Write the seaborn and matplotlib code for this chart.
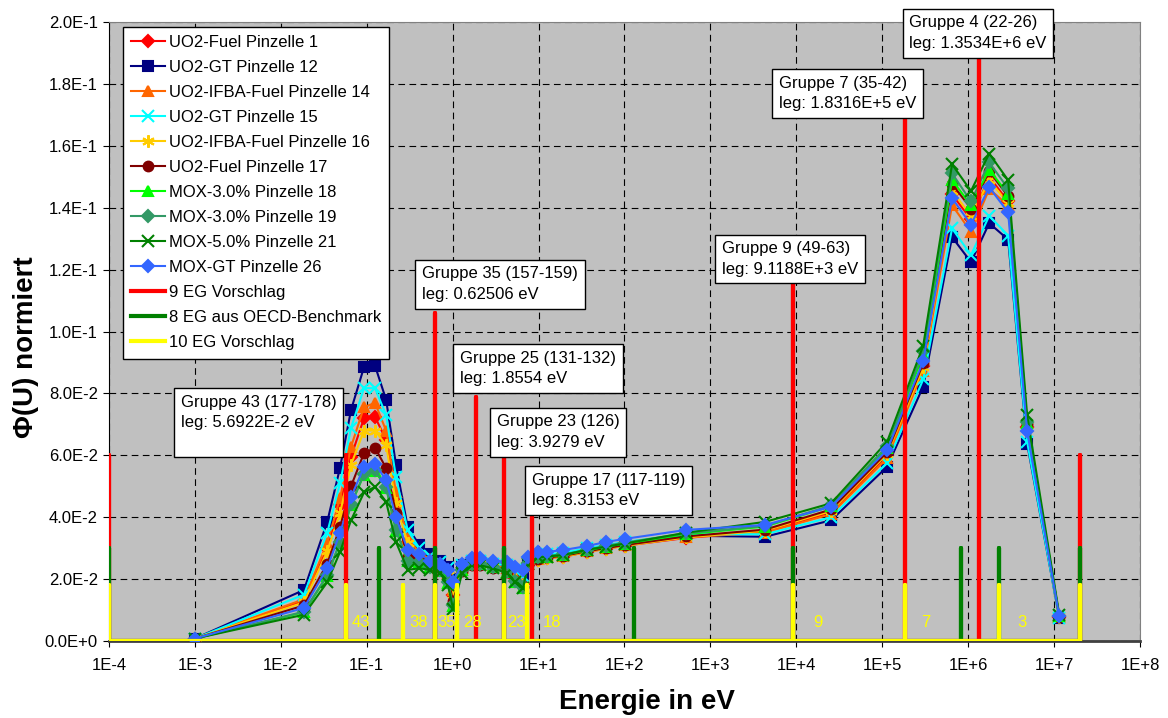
import pandas as pd
import seaborn as sns
import matplotlib.pyplot as plt
from matplotlib.ticker import NullLocator

# ---------------------- data ---------------------- #
# mid-group energies (eV) shared by every pin cell
energy = [1e-3, 0.0186, 0.0347, 0.0489, 0.0656, 0.093, 0.125, 0.168, 0.219, 0.30,
          0.41, 0.546, 0.713, 0.883, 1.01, 1.29, 1.68, 2.08, 2.95, 4.30,
          5.32, 6.60, 7.55, 9.8, 12.6, 19.5, 36.7, 61, 101, 521,
          4335, 2.54e4, 1.14e5, 3.0e5, 6.5e5, 1.08e6, 1.76e6, 2.92e6, 4.86e6, 1.15e7]

uo2_fuel_1 = [0.0008, 0.013, 0.030, 0.044, 0.0595, 0.072, 0.0724, 0.065, 0.0465, 0.032,
              0.028, 0.026, 0.024, 0.0215, 0.015, 0.023, 0.025, 0.025, 0.024, 0.023,
              0.0205, 0.0185, 0.0245, 0.0262, 0.0268, 0.0272, 0.0288, 0.0298, 0.0308, 0.0333,
              0.0355, 0.0415, 0.060, 0.089, 0.1443, 0.1362, 0.150, 0.142, 0.069, 0.0078]
uo2_gt_12 = [0.0008, 0.0165, 0.0385, 0.056, 0.0746, 0.0885, 0.0889, 0.078, 0.057, 0.0368,
             0.031, 0.028, 0.0258, 0.024, 0.020, 0.0245, 0.026, 0.026, 0.025, 0.0245,
             0.023, 0.021, 0.025, 0.027, 0.0275, 0.028, 0.0295, 0.0305, 0.0315, 0.034,
             0.0337, 0.039, 0.0563, 0.0822, 0.1305, 0.1224, 0.135, 0.1297, 0.0638, 0.0075]
uo2_ifba_14 = [0.0008, 0.0135, 0.0317, 0.0462, 0.0627, 0.0756, 0.0769, 0.068, 0.048, 0.0333,
               0.0285, 0.0265, 0.0245, 0.022, 0.0165, 0.0235, 0.0255, 0.0255, 0.0245, 0.0235,
               0.021, 0.019, 0.025, 0.0265, 0.027, 0.0275, 0.029, 0.030, 0.031, 0.0335,
               0.035, 0.041, 0.059, 0.0874, 0.1408, 0.1322, 0.146, 0.1408, 0.0695, 0.0078]
uo2_gt_15 = [0.0008, 0.015, 0.035, 0.051, 0.0688, 0.0817, 0.0817, 0.073, 0.053, 0.0358,
             0.030, 0.0275, 0.0255, 0.0235, 0.0195, 0.0245, 0.026, 0.026, 0.025, 0.0245,
             0.0228, 0.021, 0.0255, 0.0275, 0.028, 0.0285, 0.030, 0.031, 0.032, 0.0345,
             0.0345, 0.040, 0.0575, 0.0845, 0.1333, 0.1247, 0.1374, 0.131, 0.0644, 0.0075]
uo2_ifba_16 = [0.0008, 0.0125, 0.029, 0.0413, 0.0569, 0.068, 0.068, 0.0633, 0.0446, 0.0316,
               0.0278, 0.0258, 0.0238, 0.0212, 0.0148, 0.0228, 0.0248, 0.0248, 0.0238, 0.0228,
               0.0202, 0.0182, 0.0245, 0.0262, 0.0268, 0.0272, 0.0288, 0.0298, 0.0308, 0.0335,
               0.0357, 0.042, 0.0605, 0.0885, 0.1454, 0.1374, 0.1489, 0.1414, 0.0695, 0.0078]
uo2_fuel_17 = [0.0008, 0.0115, 0.025, 0.0368, 0.050, 0.0607, 0.0624, 0.0559, 0.0414, 0.0272,
               0.0265, 0.025, 0.0232, 0.020, 0.013, 0.0225, 0.0245, 0.0245, 0.0235, 0.0222,
               0.0195, 0.0175, 0.0245, 0.0265, 0.027, 0.0275, 0.029, 0.030, 0.031, 0.0338,
               0.036, 0.0425, 0.061, 0.0897, 0.1477, 0.1397, 0.1517, 0.1437, 0.070, 0.0078]
mox3_18 = [0.0008, 0.0093, 0.021, 0.0318, 0.044, 0.0538, 0.055, 0.0495, 0.0357, 0.0258,
           0.0253, 0.0238, 0.0226, 0.0188, 0.0112, 0.0228, 0.0248, 0.0248, 0.0238, 0.0222,
           0.0192, 0.0172, 0.025, 0.027, 0.0273, 0.0278, 0.0293, 0.0305, 0.0315, 0.0345,
           0.037, 0.0435, 0.0625, 0.0925, 0.1489, 0.1408, 0.1523, 0.1443, 0.0705, 0.008]
mox3_19 = [0.0008, 0.0095, 0.0213, 0.032, 0.0442, 0.054, 0.0552, 0.0498, 0.0359, 0.026,
           0.0255, 0.024, 0.0228, 0.019, 0.0115, 0.023, 0.025, 0.025, 0.024, 0.0225,
           0.0195, 0.0175, 0.0252, 0.0272, 0.0275, 0.028, 0.0295, 0.0308, 0.0318, 0.0348,
           0.0372, 0.0438, 0.063, 0.0937, 0.1511, 0.142, 0.1546, 0.1462, 0.0707, 0.008]
mox5_21 = [0.0008, 0.0085, 0.019, 0.0288, 0.039, 0.048, 0.0498, 0.045, 0.032, 0.023,
           0.0235, 0.023, 0.022, 0.018, 0.0105, 0.022, 0.0245, 0.0245, 0.0235, 0.022,
           0.019, 0.017, 0.025, 0.027, 0.0273, 0.0278, 0.0295, 0.0305, 0.0315, 0.035,
           0.0385, 0.0445, 0.0644, 0.0954, 0.154, 0.1454, 0.1575, 0.1489, 0.073, 0.0085]
mox_gt_26 = [0.0008, 0.0107, 0.0236, 0.0349, 0.0465, 0.0562, 0.0572, 0.052, 0.040, 0.0294,
             0.028, 0.026, 0.025, 0.023, 0.019, 0.025, 0.0268, 0.0268, 0.026, 0.0255,
             0.024, 0.023, 0.027, 0.0288, 0.0288, 0.0294, 0.0307, 0.032, 0.033, 0.0359,
             0.0375, 0.0434, 0.0617, 0.0905, 0.1431, 0.1345, 0.1466, 0.1385, 0.0678, 0.008]

# group boundary proposals (energy, bar height)
eg9_x = [1e-4, 0.056922, 0.62506, 1.8554, 3.9279, 8.3153, 9.1188e3, 1.8316e5, 1.3534e6, 2e7]
eg9_h = [0.06, 0.06, 0.106, 0.079, 0.059, 0.040, 0.117, 0.170, 0.189, 0.06]
eg8_x = [1e-4, 0.14, 0.625, 4.0, 130, 9.1188e3, 8.21e5, 2.3e6, 2e7]
eg8_h = [0.03, 0.03, 0.03, 0.03, 0.03, 0.03, 0.03, 0.03, 0.03]
eg10_x = [1e-4, 0.056922, 0.265, 0.62506, 1.13, 3.9279, 7.4, 9.1188e3, 1.8316e5, 2.3e6, 2e7]
eg10_h = [0.018, 0.018, 0.018, 0.018, 0.018, 0.018, 0.018, 0.018, 0.018, 0.018, 0.018]

# group numbers of the 10 EG proposal
grp_labels = ['43', '38', '35', '28', '23', '18', '9', '7', '3']
grp_x = [0.0859, 0.406, 0.861, 1.68, 5.47, 14.4, 1.8e4, 3.24e5, 4.26e6]

# annotation boxes (text, x, y of top-left)
notes = [("Gruppe 43 (177-178)\nleg: 5.6922E-2 eV\n ", 6.9e-4, 0.0795),
         ("Gruppe 35 (157-159)\nleg: 0.62506 eV", 0.44, 0.121),
         ("Gruppe 25 (131-132)\nleg: 1.8554 eV", 1.22, 0.0938),
         ("Gruppe 23 (126)\nleg: 3.9279 eV", 3.29, 0.0732),
         ("Gruppe 17 (117-119)\nleg: 8.3153 eV", 8.4, 0.0544),
         ("Gruppe 9 (49-63)\nleg: 9.1188E+3 eV", 1368, 0.1291),
         ("Gruppe 7 (35-42)\nleg: 1.8316E+5 eV", 6310, 0.1827),
         ("Gruppe 4 (22-26)\nleg: 1.3534E+6 eV", 2.06e5, 0.2021)]

xticks = [1e-4, 1e-3, 1e-2, 1e-1, 1e0, 1e1, 1e2, 1e3, 1e4, 1e5, 1e6, 1e7, 1e8]
xtick_labels = ['1E-4', '1E-3', '1E-2', '1E-1', '1E+0', '1E+1', '1E+2', '1E+3',
                '1E+4', '1E+5', '1E+6', '1E+7', '1E+8']
yticks = [0, 0.02, 0.04, 0.06, 0.08, 0.10, 0.12, 0.14, 0.16, 0.18, 0.20]
ytick_labels = ['0.0E+0', '2.0E-2', '4.0E-2', '6.0E-2', '8.0E-2', '1.0E-1',
                '1.2E-1', '1.4E-1', '1.6E-1', '1.8E-1', '2.0E-1']

# (label, values, color, marker, size)
series = [("UO2-Fuel Pinzelle 1", uo2_fuel_1, '#FF0000', 'D', 6),
          ("UO2-GT Pinzelle 12", uo2_gt_12, '#000080', 's', 7),
          ("UO2-IFBA-Fuel Pinzelle 14", uo2_ifba_14, '#FF6600', '^', 7),
          ("UO2-GT Pinzelle 15", uo2_gt_15, '#00FFFF', 'x', 8),
          ("UO2-IFBA-Fuel Pinzelle 16", uo2_ifba_16, '#FFCC00', (6, 2, 0), 9),
          ("UO2-Fuel Pinzelle 17", uo2_fuel_17, '#800000', 'o', 7),
          ("MOX-3.0% Pinzelle 18", mox3_18, '#00FF00', '^', 7),
          ("MOX-3.0% Pinzelle 19", mox3_19, '#339966', 'D', 6),
          ("MOX-5.0% Pinzelle 21", mox5_21, '#008000', 'x', 8),
          ("MOX-GT Pinzelle 26", mox_gt_26, '#3366FF', 'D', 6)]

combs = [("9 EG Vorschlag", eg9_x, eg9_h, '#FF0000'),
         ("8 EG aus OECD-Benchmark", eg8_x, eg8_h, '#008000'),
         ("10 EG Vorschlag", eg10_x, eg10_h, '#FFFF00')]


def comb_path(xs, hs):
    """ build a vertical-bar path along y=0 from positions and heights """
    px, py = [], []
    for x, h in zip(xs, hs):
        px += [x, x, x]
        py += [0, h, 0]
    return pd.DataFrame({'x': px, 'y': py})


# ---------------------- plot ---------------------- #
plt.rcParams['font.family'] = ['Liberation Sans', 'DejaVu Sans']

fig = plt.figure(figsize=(11.68, 7.18), dpi=100)
ax = fig.add_axes([0.0933, 0.1072, 0.8827, 0.8622])
ax.set_facecolor('#C0C0C0')

for label, vals, color, marker, ms in series:
    sns.lineplot(x=energy, y=vals, ax=ax, color=color, marker=marker,
                 markersize=ms, markeredgecolor=color, markeredgewidth=1.5,
                 linewidth=1.5, label=label, sort=False, estimator=None, zorder=3)

for label, xs, hs, color in combs:
    df = comb_path(xs, hs)
    sns.lineplot(data=df, x='x', y='y', ax=ax, color=color, linewidth=3,
                 label=label, sort=False, estimator=None, zorder=4)

for txt, x in zip(grp_labels, grp_x):
    ax.text(x, 0.0061, txt, color='#FFFF00', fontsize=12, ha='center',
            va='center', zorder=5)

for txt, x, y in notes:
    ax.text(x, y, txt, fontsize=12, ha='left', va='top', linespacing=1.45,
            zorder=6, clip_on=False,
            bbox=dict(boxstyle='square,pad=0.4', fc='white', ec='black', lw=1))

ax.set_xscale('log')
ax.set_xlim(1e-4, 1e8)
ax.set_ylim(0, 0.2)
ax.set_xticks(xticks)
ax.set_xticklabels(xtick_labels, fontsize=12)
ax.xaxis.set_minor_locator(NullLocator())
ax.set_yticks(yticks)
ax.set_yticklabels(ytick_labels, fontsize=12)
ax.tick_params(axis='x', length=4, pad=8, color='black')
ax.tick_params(axis='y', length=4, pad=4, color='black')

ax.set_axisbelow(True)
ax.grid(True, color='black', linestyle=(0, (6, 4)), linewidth=0.8)

ax.spines['left'].set_color('black')
ax.spines['bottom'].set_color('#404040')
ax.spines['bottom'].set_linewidth(2)
ax.spines['top'].set_color('#808080')
ax.spines['right'].set_color('#808080')

ax.set_xlabel('Energie in eV', fontsize=20, fontweight='bold')
ax.xaxis.set_label_coords(0.522, -0.077)
ax.set_ylabel('Φ(U) normiert', fontsize=20, fontweight='bold')
ax.yaxis.set_label_coords(-0.068, 0.475)

leg = ax.legend(loc='upper left', bbox_to_anchor=(0.0136, 0.992), borderaxespad=0,
                fontsize=12, frameon=True, fancybox=False, framealpha=1,
                edgecolor='black', handlelength=2.0, handletextpad=0.25,
                labelspacing=0.6, borderpad=0.5)
leg.get_frame().set_linewidth(1)
leg.set_zorder(7)

fig.savefig('out.png', dpi=100)
